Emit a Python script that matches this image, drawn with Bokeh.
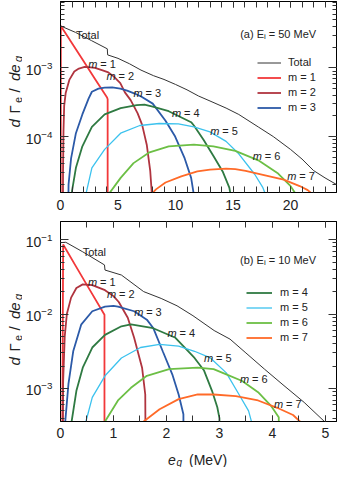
import math
from bokeh.plotting import figure
from bokeh.models import (Range1d, LinearAxis, LogTicker, SingleIntervalTicker,
                          Label, Legend, LegendItem, CustomJSTickFormatter)
from bokeh.layouts import column, row
from bokeh.embed import file_html
from bokeh.resources import INLINE

# ---------------- panel (a): E_i = 50 MeV ----------------
a_total_x = [0, 1.3, 2.7, 4.07, 4.1, 5.0, 6.0, 7.0, 8.1, 9.0, 10.0, 11.0, 12.0, 13.0, 14.4, 15.5,
             17.2, 18.5, 20.0, 21.0, 22.0, 23.0, 24.0]
a_total_y = [4.1e-3, 3.3e-3, 2.5e-3, 1.9e-3, 1.55e-3, 1.38e-3, 1.15e-3, 9.3e-4, 7.7e-4, 6.8e-4,
             5.75e-4, 4.8e-4, 3.9e-4, 3.3e-4, 2.6e-4, 2.1e-4, 1.38e-4, 1.0e-4, 6.5e-5, 4.7e-5,
             3.2e-5, 2.5e-5, 2.0e-5]
a_m1_x = [0.0, 0.03, 1.0, 2.0, 3.0, 4.05, 4.1, 4.1]
a_m1_y = [1e-9, 4.1e-3, 2.29e-3, 1.26e-3, 6.9e-4, 3.7e-4, 3.5e-4, 1e-9]
a_m2_x = [0.2, 0.22, 0.26, 0.32, 0.45, 0.78, 1.2, 1.6, 2.1, 2.6, 3.0, 3.6, 4.1, 4.6, 5.2, 5.6,
          6.1, 6.7, 7.1, 7.5, 7.8, 7.95, 8.0]
a_m2_y = [1e-6, 3e-5, 1.2e-4, 2.8e-4, 4.3e-4, 6.76e-4, 8.9e-4, 9.8e-4, 1.035e-3, 1.02e-3, 1.0e-3,
          9.3e-4, 8.7e-4, 7.6e-4, 6.0e-4, 4.4e-4, 3.4e-4, 2.2e-4, 1.48e-4, 7.6e-5, 3.2e-5,
          1.4e-5, 1e-6]
a_m3_x = [0.62, 0.7, 0.92, 1.34, 1.9, 2.45, 2.73, 3.3, 3.84, 4.5, 5.2, 5.79, 6.4, 7.05, 8.02,
          9.13, 9.97, 10.8, 11.36, 11.6, 11.65]
a_m3_y = [1e-6, 2.0e-5, 4.8e-5, 1.12e-4, 2.1e-4, 3.6e-4, 4.5e-4, 5.0e-4, 5.18e-4, 5.21e-4, 5.0e-4,
          4.68e-4, 4.27e-4, 3.8e-4, 3.02e-4, 1.7e-4, 1.0e-4, 4.8e-5, 2.5e-5, 1.4e-5, 1e-6]
a_m4_x = [0.95, 1.0, 1.34, 1.9, 2.73, 3.84, 5.23, 6.63, 7.3, 8.02, 9.41, 11.36, 11.6, 12.45, 13.3,
          14.1, 14.68, 14.85, 14.9]
a_m4_y = [1e-6, 1.6e-5, 3.5e-5, 7.2e-5, 1.38e-4, 2.1e-4, 2.6e-4, 2.88e-4, 2.92e-4, 2.73e-4,
          2.34e-4, 1.62e-4, 1.45e-4, 8.9e-5, 5.2e-5, 3.1e-5, 1.8e-5, 1.26e-5, 1e-6]
a_m5_x = [2.15, 2.23, 2.73, 3.84, 5.23, 6.9, 8.58, 10.25, 11.6, 13.0, 14.4, 15.5, 16.9, 17.6,
          17.85, 17.9]
a_m5_y = [1e-6, 1.5e-5, 3.5e-5, 6.5e-5, 1.12e-4, 1.45e-4, 1.55e-4, 1.53e-4, 1.38e-4, 1.17e-4,
          8.5e-5, 5.6e-5, 2.8e-5, 1.8e-5, 1.4e-5, 1e-6]
a_m6_x = [4.2, 4.26, 5.23, 6.35, 7.74, 9.41, 11.6, 13.3, 15.2, 17.2, 18.86, 19.97, 20.4, 20.5]
a_m6_y = [1e-6, 1.5e-5, 2.5e-5, 4.1e-5, 5.9e-5, 7.2e-5, 7.65e-5, 7.2e-5, 6.2e-5, 4.5e-5, 2.95e-5,
          1.93e-5, 1.5e-5, 1e-6]
a_m7_x = [7.95, 8.0, 8.3, 9.13, 10.5, 11.9, 13.0, 14.4, 15.2, 16.1, 17.7, 19.4, 20.8, 21.5, 21.9,
          22.0]
a_m7_y = [1e-6, 1.5e-5, 1.7e-5, 2.14e-5, 2.63e-5, 3.1e-5, 3.3e-5, 3.4e-5, 3.35e-5, 3.16e-5,
          2.75e-5, 2.35e-5, 1.9e-5, 1.66e-5, 1.45e-5, 1e-6]

# ---------------- panel (b): E_i = 10 MeV ----------------
b_total_x = [0, 0.1, 0.42, 0.83, 0.84, 1.15, 1.57, 1.9, 2.2, 2.5, 2.9, 3.2, 3.5, 3.85, 4.2, 4.6, 5.0]
b_total_y = [9.1e-2, 9.2e-2, 6.85e-2, 4.57e-2, 3.9e-2, 3.34e-2, 2.0e-2, 1.62e-2, 1.29e-2, 9.5e-3,
             6.0e-3, 4.6e-3, 3.0e-3, 1.82e-3, 1.12e-3, 6.5e-4, 3.5e-4]
b_m1_x = [0.0, 0.05, 0.3, 0.55, 0.83, 0.83]
b_m1_y = [1e-9, 8.6e-2, 4.27e-2, 2.13e-2, 9.8e-3, 1e-9]
b_m2_x = [0.02, 0.05, 0.08, 0.12, 0.2, 0.3, 0.42, 0.6, 0.84, 1.0, 1.1, 1.27, 1.39, 1.54, 1.6, 1.63]
b_m2_y = [1e-7, 1.26e-3, 5.0e-3, 1.0e-2, 1.66e-2, 2.24e-2, 2.5e-2, 2.45e-2, 2.09e-2, 1.74e-2,
          1.45e-2, 8.9e-3, 4.8e-3, 1.9e-3, 8.3e-4, 1e-7]
b_m3_x = [0.08, 0.09, 0.15, 0.24, 0.39, 0.6, 0.84, 1.0, 1.085, 1.39, 1.63, 1.75, 1.93, 2.11, 2.23,
          2.32, 2.34]
b_m3_y = [1e-7, 3.6e-4, 1.15e-3, 3.16e-3, 7.2e-3, 1.09e-2, 1.26e-2, 1.29e-2, 1.26e-2, 1.09e-2,
          8.4e-3, 6.5e-3, 3.16e-3, 1.55e-3, 8.3e-4, 4.5e-4, 1e-7]
b_m4_x = [0.2, 0.21, 0.30, 0.42, 0.6, 0.84, 1.15, 1.33, 1.75, 2.17, 2.53, 2.71, 2.86, 2.96, 3.0, 3.01]
b_m4_y = [1e-7, 3.6e-4, 9.3e-4, 1.9e-3, 3.55e-3, 5.25e-3, 6.85e-3, 7.25e-3, 6.45e-3, 4.8e-3,
          2.57e-3, 1.74e-3, 9.3e-4, 5.6e-4, 4.0e-4, 1e-7]
b_m5_x = [0.46, 0.48, 0.6, 0.84, 1.15, 1.51, 1.87, 2.23, 2.53, 2.83, 3.13, 3.37, 3.55, 3.6, 3.61]
b_m5_y = [1e-7, 3.6e-4, 7.6e-4, 1.48e-3, 2.57e-3, 3.55e-3, 3.9e-3, 3.7e-3, 3.16e-3, 2.57e-3,
          1.62e-3, 8.3e-4, 5.0e-4, 3.7e-4, 1e-7]
b_m6_x = [0.82, 0.84, 1.085, 1.33, 1.63, 2.05, 2.59, 2.89, 3.13, 3.43, 3.73, 3.97, 4.12, 4.15]
b_m6_y = [1e-7, 3.6e-4, 6.9e-4, 1.02e-3, 1.48e-3, 1.82e-3, 1.9e-3, 1.82e-3, 1.55e-3, 1.26e-3,
          8.9e-4, 5.9e-4, 4.1e-4, 1e-7]
b_m7_x = [1.55, 1.57, 1.87, 2.23, 2.59, 2.89, 3.31, 3.73, 4.09, 4.39, 4.52, 4.53]
b_m7_y = [1e-7, 3.6e-4, 5.25e-4, 7.2e-4, 8.3e-4, 8.3e-4, 7.9e-4, 6.9e-4, 5.5e-4, 4.4e-4, 3.6e-4, 1e-7]

FONT = "Liberation Sans"
COLORS = ["#333333", "#f2383a", "#b0343f", "#2c5aa8", "#2f7a42", "#3cc2ee", "#6cbf45", "#ff6a28"]
WIDTHS = [1.0, 1.8, 1.8, 1.8, 1.8, 1.3, 1.8, 1.8]
NAMES = ["Total", "m = 1", "m = 2", "m = 3", "m = 4", "m = 5", "m = 6", "m = 7"]


def make_panel(width, height, xmax, ymin, ymax, xint, xminor, bl, bt, bb, xstand):
    p = figure(width=width, height=height, x_range=Range1d(0, xmax), y_range=Range1d(ymin, ymax),
               y_axis_type="log", output_backend="svg", toolbar_location=None,
               min_border_left=bl, min_border_right=2, min_border_top=bt, min_border_bottom=bb)
    p.grid.visible = False
    p.outline_line_color = "black"
    p.background_fill_color = "white"
    p.border_fill_color = "white"
    xt = SingleIntervalTicker(interval=xint, num_minor_ticks=xminor)
    yt = LogTicker(num_minor_ticks=10)
    bx = p.below[0]
    ly = p.left[0]
    bx.ticker = xt
    ly.ticker = yt
    blank = CustomJSTickFormatter(code="return ''")
    tx = LinearAxis(ticker=xt, formatter=blank)
    ry = LinearAxis(ticker=yt, formatter=blank)
    p.add_layout(tx, "above")
    p.add_layout(ry, "right")
    for ax in (bx, tx):
        ax.major_tick_in = 6
        ax.minor_tick_in = 6
    for ax in (ly, ry):
        ax.major_tick_in = 8
        ax.minor_tick_in = 4
    for ax in (bx, tx, ly, ry):
        ax.major_tick_out = 0
        ax.minor_tick_out = 0
        ax.axis_line_color = "black"
        ax.major_tick_line_color = "#333333"
        ax.minor_tick_line_color = "#333333"
        ax.major_label_text_font = FONT
        ax.major_label_text_font_size = "14px"
        ax.major_label_text_color = "#222222"
    bx.major_label_standoff = xstand
    ly.major_label_standoff = 8
    for ax in (tx, ry):
        ax.major_label_text_font_size = "1px"
        ax.major_label_standoff = 0
    return p


def strip(w, h):
    s = figure(frame_width=w, frame_height=h, x_range=Range1d(0, w), y_range=Range1d(0, h),
               output_backend="svg", toolbar_location=None, title=None,
               min_border_left=0, min_border_right=0, min_border_top=0, min_border_bottom=0,
               x_axis_location=None, y_axis_location=None)
    s.grid.visible = False
    s.outline_line_color = None
    s.background_fill_color = "white"
    s.border_fill_color = "white"
    return s


def lab(p, x, y, text, size=11, style="normal", xo=0, yo=0, angle=0.0):
    p.add_layout(Label(x=x, y=y, x_offset=xo, y_offset=yo, text=text, angle=angle,
                       text_font=FONT, text_font_size=f"{size}px", text_font_style=style,
                       text_color="#222222", text_align="left", text_baseline="alphabetic"))


def mlab(p, x, y, k):
    lab(p, x, y, "m", style="italic")
    lab(p, x, y, f"= {k}", xo=12)


def ylabel(s, start):
    pieces = [("d", "italic", 15, 0, 0), ("\u0393", "normal", 15, 14, 0),
              ("e", "normal", 11, 24.5, 3), ("/", "normal", 15, 35, 0),
              ("de", "italic", 15, 46.5, 0), ("q", "italic", 11, 65.5, 3)]
    for t, st, sz, off, sub in pieces:
        lab(s, 14 + sub, start + off, t, size=sz, style=st, angle=math.pi / 2)


def draw(p, xs, ys):
    rs = []
    for i, (x, y) in enumerate(zip(xs, ys)):
        rs.append(p.line(x, y, line_color=COLORS[i], line_width=WIDTHS[i]))
    return rs


def legend(p, rs, idx, vx, vy, gw, lh, so):
    items = [LegendItem(label=NAMES[i], renderers=[rs[i]]) for i in idx]
    lg = Legend(items=items, location=(vx, vy), orientation="vertical", padding=0, spacing=0,
                margin=0, glyph_width=gw, glyph_height=lh, label_height=lh, label_standoff=so,
                label_text_font=FONT, label_text_font_size="11px", label_text_color="#222222",
                border_line_color=None, background_fill_alpha=0)
    p.add_layout(lg)


# ---- panel (a)
ya = (1.53e-5, 9.3e-3)
pa = make_panel(316, 216, 24, ya[0], ya[1], 5, 5, 36, 1, 24, 7)
ra = draw(pa, [a_total_x, a_m1_x, a_m2_x, a_m3_x, a_m4_x, a_m5_x, a_m6_x, a_m7_x],
          [a_total_y, a_m1_y, a_m2_y, a_m3_y, a_m4_y, a_m5_y, a_m6_y, a_m7_y])
legend(pa, ra, [0, 1, 2, 3], 197, 77.2, 24, 15, 7)
lab(pa, 1.34, 3.05e-3, "Total")
for k, (x, y) in enumerate([(2.42, 1.135e-3), (4.01, 7.75e-4), (6.35, 4.37e-4), (9.69, 2.24e-4),
                            (13.03, 1.22e-4), (16.71, 5.18e-5), (19.72, 2.65e-5)], start=1):
    mlab(pa, x, y, k)
lab(pa, 15.62, 3.15e-3, "(a) E")
lab(pa, 15.62, 3.15e-3, "i", size=8, xo=23.8, yo=-2.5)
lab(pa, 15.62, 3.15e-3, "= 50 MeV", xo=28.6)
la = strip(22, 216)
ylabel(la, 90)

# ---- panel (b)
yb = (3.6e-4, 0.175)
pb = make_panel(316, 227, 5.21, yb[0], yb[1], 1, 2, 36, 5, 22, 6)
rb = draw(pb, [b_total_x, b_m1_x, b_m2_x, b_m3_x, b_m4_x, b_m5_x, b_m6_x, b_m7_x],
          [b_total_y, b_m1_y, b_m2_y, b_m3_y, b_m4_y, b_m5_y, b_m6_y, b_m7_y])
legend(pb, rb, [4, 5, 6, 7], 186, 76.2, 26, 15, 8)
lab(pb, 0.42, 6.9e-2, "Total")
for k, (x, y) in enumerate([(0.52, 2.67e-2), (0.88, 1.85e-2), (1.39, 1.06e-2), (2.02, 5.58e-3),
                            (2.71, 2.59e-3), (3.39, 1.32e-3), (4.03, 6.12e-4)], start=1):
    mlab(pb, x, y, k)
lab(pb, 3.39, 5.3e-2, "(b) E")
lab(pb, 3.39, 5.3e-2, "i", size=8, xo=23.8, yo=-2.5)
lab(pb, 3.39, 5.3e-2, "= 10 MeV", xo=28.6)
lb = strip(22, 227)
ylabel(lb, 83)

# ---- x-axis title  e_q (MeV)
xs = strip(338, 24)
lab(xs, 167.5, 8, "e", size=14, style="italic")
lab(xs, 176, 5, "q", size=10, style="italic")
lab(xs, 188.5, 8, "(MeV)", size=14)

layout = column(row(la, pa), row(lb, pb), xs)
open("out.html", "w").write(file_html(layout, INLINE))
